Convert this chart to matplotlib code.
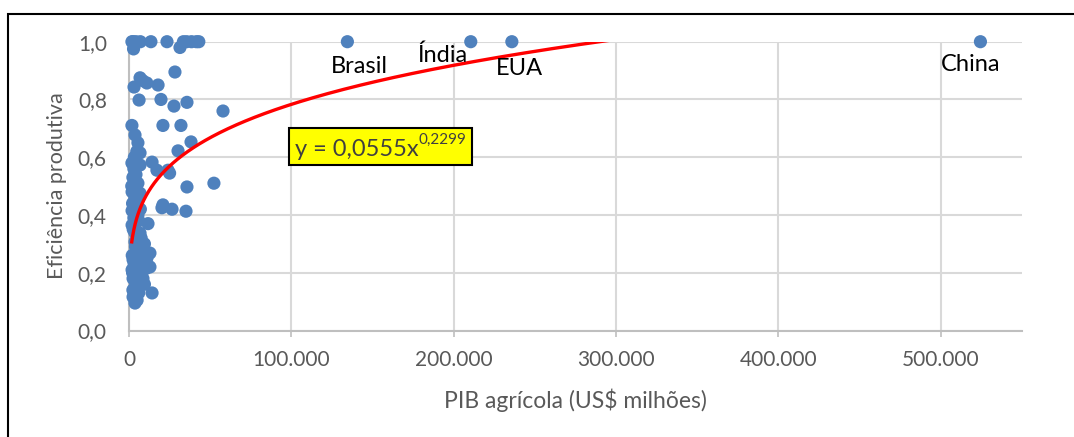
import matplotlib
matplotlib.use('Agg')
import matplotlib.pyplot as plt
import numpy as np
from matplotlib.patches import Rectangle
from matplotlib.transforms import Bbox
from matplotlib.ticker import FuncFormatter, FixedLocator

# ---- data -----------------------------------------------------------
pib = [
    # efficiency = 1.0 row and near
    1800, 2600, 4300, 7000, 13500, 23400, 33500, 35500, 38500, 41500, 43000,
    2800, 31400,
    134500, 210500, 235800, 524400,
    # upper band
    28300, 6800, 3100, 11000, 17900, 8500,
    6200, 19700, 27700, 35700, 57900,
    1800, 20900, 32000,
    3700, 5500, 38200, 30200, 6800,
    14200, 17200, 24000, 25000,
    # middle
    35700, 52300, 20900, 20300, 26500, 35100,
    # dense cluster
    1800, 6800, 2400, 5500, 1700, 3700, 6800, 1900, 5500, 1900, 11700,
    6800, 3700, 8000, 5500, 12900, 2500, 11000, 1900, 12900, 4900, 2500,
    8600, 3700, 14200, 2500, 3700,
    3000, 4300, 2200, 4000, 3000, 6000, 2600, 5000, 7500, 4000, 6200,
    2000, 9000, 3200, 6000, 2200, 7000, 4500, 9500, 2400, 6000, 3000,
    5000, 8000, 10500, 1900, 4500, 5000, 7000, 3500, 9500, 3300, 4800,
]
eficiencia = [
    1.0, 1.0, 1.0, 1.0, 1.0, 1.0, 1.0, 1.0, 1.0, 1.0, 1.0,
    0.975, 0.98,
    1.0, 1.0, 1.0, 1.0,
    0.895, 0.875, 0.843, 0.857, 0.85, 0.865,
    0.798, 0.80, 0.777, 0.79, 0.76,
    0.71, 0.71, 0.71,
    0.677, 0.65, 0.653, 0.622, 0.615,
    0.583, 0.555, 0.555, 0.545,
    0.497, 0.51, 0.435, 0.425, 0.42, 0.413,
    0.58, 0.573, 0.53, 0.51, 0.50, 0.46, 0.475, 0.415, 0.40, 0.365, 0.37,
    0.337, 0.307, 0.30, 0.28, 0.268, 0.245, 0.25, 0.21, 0.22, 0.21, 0.18,
    0.18, 0.15, 0.13, 0.116, 0.095,
    0.56, 0.54, 0.44, 0.43, 0.39, 0.38, 0.35, 0.33, 0.32, 0.29, 0.27,
    0.26, 0.24, 0.23, 0.22, 0.20, 0.19, 0.17, 0.16, 0.14, 0.13, 0.12,
    0.105, 0.225, 0.215, 0.48, 0.49, 0.45, 0.42, 0.34, 0.30, 0.60, 0.62,
]

label_names = ['Brasil', 'Índia', 'EUA', 'China']
label_x = [134500, 210500, 235800, 524400]
label_y = [1.0, 1.0, 1.0, 1.0]

coef_a = 0.0555
coef_b = 0.2299
equation_text = 'y = 0,0555x'
equation_exp = '0,2299'

x_ticks = [0, 100000, 200000, 300000, 400000, 500000]
y_ticks = [0.0, 0.2, 0.4, 0.6, 0.8, 1.0]

x_title = 'PIB agrícola (US$ milhões)'
y_title = 'Eficiência produtiva'

# ---- style ----------------------------------------------------------
plt.rcParams['font.family'] = ['Lato', 'DejaVu Sans']
W, H = 1074, 437
fig = plt.figure(figsize=(W / 100, H / 100), dpi=100)
fig.patch.set_facecolor('white')

ax = fig.add_axes([129 / W, (H - 330.5) / H, (1022 - 129) / W, (330.5 - 41.7) / H])
ax.set_xlim(0, 550000)
ax.set_ylim(0, 1.0)

ax.xaxis.set_major_locator(FixedLocator(x_ticks))
ax.yaxis.set_major_locator(FixedLocator(y_ticks))
ax.xaxis.set_major_formatter(FuncFormatter(lambda v, p: f'{int(round(v)):,}'.replace(',', '.')))
ax.yaxis.set_major_formatter(FuncFormatter(lambda v, p: f'{v:.1f}'.replace('.', ',')))

ax.grid(True, color='#D9D9D9', linewidth=1.5)
ax.set_axisbelow(True)
for s in ['top', 'right']:
    ax.spines[s].set_visible(False)
for s in ['left', 'bottom']:
    ax.spines[s].set_color('#BFBFBF')
    ax.spines[s].set_linewidth(1.5)

ax.tick_params(axis='x', length=4, width=1.2, color='#BFBFBF', pad=10,
               labelsize=15, labelcolor='#595959')
ax.tick_params(axis='y', length=0, pad=16, labelsize=15, labelcolor='#595959')

ax.set_xlabel(x_title, fontsize=16.5, color='#595959', labelpad=13)
ax.set_ylabel(y_title, fontsize=15.5, color='#595959', labelpad=8)

# points
ax.scatter(pib, eficiencia, s=90, color='#4F81BD', edgecolors='none',
           zorder=3, clip_on=False)

# power trendline
xs = np.geomspace(min(pib), max(pib), 600)
ax.plot(xs, coef_a * xs ** coef_b, color='#FF0000', lw=2.4, zorder=4)

# data labels
offsets = [(12, -25), (-28, -14), (8, -27), (-10, -23)]
for name, lx, ly, off in zip(label_names, label_x, label_y, offsets):
    ax.annotate(name, (lx, ly), xytext=off, textcoords='offset pixels',
                ha='center', va='center', fontsize=17, color='black', zorder=5)

# equation box
t1 = ax.text(102000, 0.628, equation_text, fontsize=17, color='#404040',
             ha='left', va='center', zorder=6)
t2 = ax.annotate(equation_exp, xy=(1.0, 0.62), xycoords=t1, fontsize=11,
                 color='#404040', ha='left', va='bottom', zorder=6)
fig.canvas.draw()
r = fig.canvas.get_renderer()
bb = Bbox.union([t1.get_window_extent(r), t2.get_window_extent(r)])
padx, pady = 6, 5
rect = Rectangle(((bb.x0 - padx) / W, (bb.y0 - pady) / H),
                 (bb.width + 2 * padx) / W, (bb.height + 2 * pady) / H,
                 transform=fig.transFigure, facecolor='#FFFF00',
                 edgecolor='black', linewidth=1.5, zorder=5)
ax.add_artist(rect)
rect.set_clip_on(False)

# outer chart border (extends beyond the image at right and bottom)
frame = Rectangle((8 / W, -0.2), 1.2, (H - 14) / H + 0.2,
                  transform=fig.transFigure, fill=False, edgecolor='black',
                  linewidth=1.5)
fig.add_artist(frame)

fig.savefig('out.png', dpi=100)
